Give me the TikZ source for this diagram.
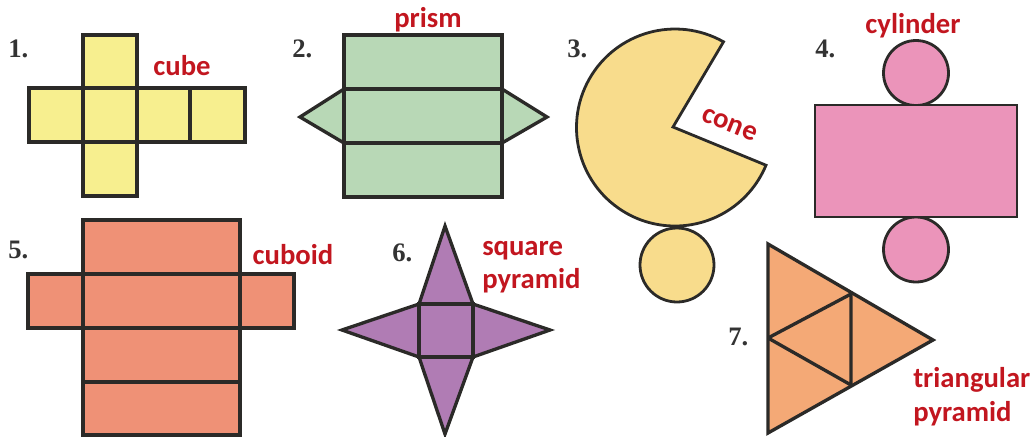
\documentclass[tikz,border=0pt]{standalone}
\usepackage{fontspec}
\setmainfont{Carlito}
\newfontfamily\numfont{Liberation Serif}
\definecolor{linec}{HTML}{2B2A28}
\definecolor{labelred}{HTML}{C2161F}
\definecolor{numc}{HTML}{333333}
\definecolor{cubec}{HTML}{F7EF8F}
\definecolor{prismc}{HTML}{B8D8B6}
\definecolor{conec}{HTML}{F8DC8C}
\definecolor{cylc}{HTML}{EB94BA}
\definecolor{cuboidc}{HTML}{EF9176}
\definecolor{pyrc}{HTML}{B07CB4}
\definecolor{tric}{HTML}{F4A976}
\tikzset{
  netline/.style={draw=linec,line width=2.5pt,line join=miter},
  thinline/.style={draw=linec,line width=2.1pt,line join=miter},
  lab/.style={text=labelred,font=\fontsize{21.5}{25}\selectfont\bfseries,inner sep=0pt},
  num/.style={text=numc,font=\numfont\fontsize{20}{24}\selectfont\bfseries,inner sep=0pt,anchor=base west}
}
\begin{document}
\begin{tikzpicture}[x=0.75pt,y=-0.75pt]
\useasboundingbox (0,0) rectangle (1035,436);
% 1 cube
\fill[cubec] (83,35) rectangle (137,196) (29,88) rectangle (245,142);
\draw[netline] (83,35) rectangle (137,196) (29,88) rectangle (245,142) (190,88) -- (190,142) (83,88) -- (137,88) (83,142) -- (137,142);
% 2 prism
\filldraw[netline,fill=prismc] (344,89) -- (300,117) -- (344,143) -- cycle;
\filldraw[netline,fill=prismc] (502,89) -- (547,117) -- (502,143) -- cycle;
\filldraw[netline,fill=prismc] (344,35) rectangle (502,197);
\draw[netline] (344,89) -- (502,89) (344,143) -- (502,143);
% 3 cone
\filldraw[thinline,fill=conec] (673,127) -- (723.5,41.8) arc[start angle=-60.5,end angle=-337.5,radius=98.5] -- cycle;
\filldraw[thinline,fill=conec] (677,265) circle[radius=37];
% 4 cylinder
\filldraw[thinline,fill=cylc] (916,73) circle[radius=32.5];
\filldraw[thinline,fill=cylc] (916,249.5) circle[radius=32.5];
\filldraw[thinline,fill=cylc] (815,105) rectangle (1017,217);
% 5 cuboid
\filldraw[netline,fill=cuboidc] (28,274) rectangle (294,328);
\filldraw[netline,fill=cuboidc] (83,220) rectangle (240,435);
\draw[netline] (83,274) -- (240,274) (83,328) -- (240,328) (83,382) -- (240,382);
% 6 square pyramid
\filldraw[netline,fill=pyrc] (419,304) -- (445,226) -- (473,304) -- (550,330) -- (473,357) -- (445,434) -- (419,357) -- (342,330) -- cycle;
\draw[netline] (419,304) rectangle (473,357);
% 7 triangular pyramid
\filldraw[netline,fill=tric] (768,244) -- (933,340) -- (768,433) -- cycle;
\draw[netline,line join=bevel] (768,338) -- (851,294) -- (851,385) -- cycle;
% numbers
\node[num] (n1) at (8,57) {1.};
\node[num] (n2) at (292,57) {2.};
\node[num] (n3) at (567,57) {3.};
\node[num] (n4) at (815,57) {4.};
\node[num] (n5) at (8,258) {5.};
\node[num] (n6) at (392,261) {6.};
\node[num] (n7) at (728,345) {7.};
% labels
\node[lab,anchor=base] (l1) at (182,75) {cube};
\node[lab,anchor=base] (l2) at (428,27) {prism};
\node[lab,anchor=base,rotate=-22] (l3) at (727,131) {cone};
\node[lab,anchor=base] (l4) at (913,33) {cylinder};
\node[lab,anchor=base] (l5) at (293,264) {cuboid};
\node[lab,anchor=base west] (l6a) at (482,255) {square};
\node[lab,anchor=base west] (l6b) at (482,288) {pyramid};
\node[lab,anchor=base west] (l7a) at (913,387) {triangular};
\node[lab,anchor=base west] (l7b) at (913,421) {pyramid};
\end{tikzpicture}
\end{document}
